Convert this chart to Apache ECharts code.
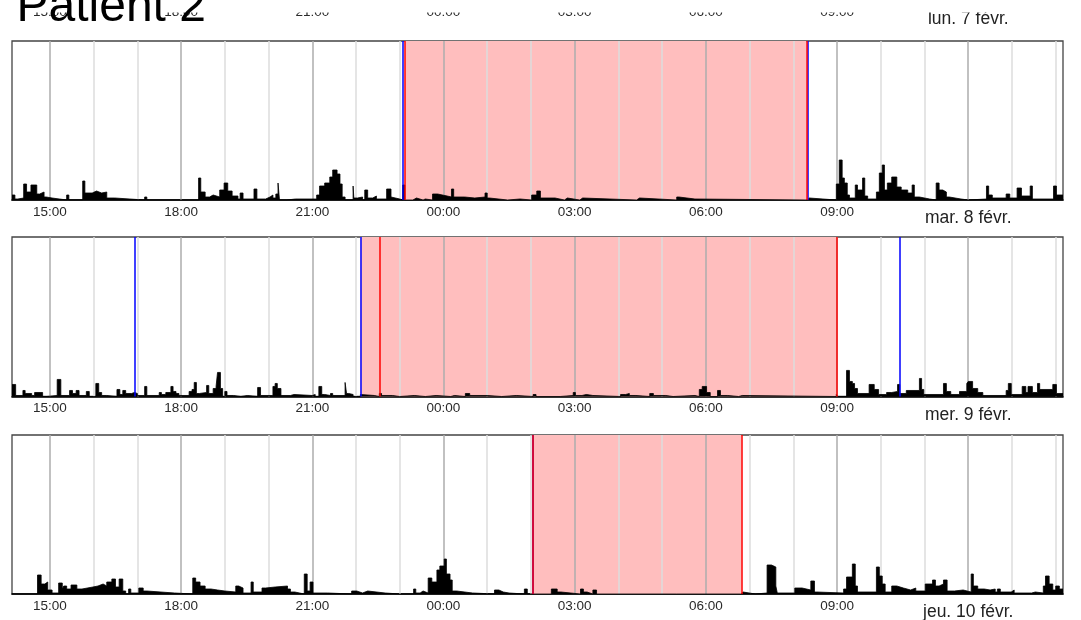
<!DOCTYPE html>
<html lang="fr">
<head>
<meta charset="UTF-8">
<title>Patient 2</title>
<script src="https://cdn.jsdelivr.net/npm/echarts@6/dist/echarts.min.js"></script>
<style>
  html, body { margin: 0; padding: 0; background: #fff; }
  #main { width: 1081px; height: 620px; }
</style>
</head>
<body>
<div id="main"></div>
<script>
// x = minutes after 14:00 of the first day of each panel
const xMin = 8, xMax = 1450;
const tickMinutes = [60, 240, 420, 600, 780, 960, 1140, 1320];
const hourMinutes = [60, 120, 180, 240, 300, 360, 420, 480, 540, 600, 660, 720, 780, 840,
  900, 960, 1020, 1080, 1140, 1200, 1260, 1320, 1380, 1440];
const dayLabels = ['lun. 7 févr.', 'mar. 8 févr.', 'mer. 9 févr.', 'jeu. 10 févr.'];

// activity, [start minute, level] held until next entry
const act1 = [[8,5],[12,1],[16,2],[24,16],[28,8],[34,15],[42,6],[46,8],[52,3],[55,2],[63,0],[83,5],[86,0],[105,19],[108,7],[118,9],[124,7],[131,8],[138,2],[149,0],[190,3],[193,0],[264,22],[267,8],[273,3],[279,5],[284,3],[293,10],[299,17],[304,9],[310,4],[318,1],[321,7],[325,1],[340,11],[344,1],[356,3],[362,5],[366,2],[370,6],[373,17],[375,0],[385,1],[397,0],[399,1],[426,5],[430,14],[437,17],[444,23],[448,30],[454,26],[458,16],[461,3],[465,0],[476,14],[477,2],[482,3],[489,0],[492,10],[496,2],[503,4],[508,1],[522,11],[528,3],[530,1],[540,0],[544,15],[547,0],[558,2],[563,0],[572,1],[575,0],[585,6],[592,4],[605,3],[611,11],[614,3],[629,2],[643,3],[657,7],[660,2],[663,0],[688,1],[705,0],[721,5],[728,9],[733,2],[753,0],[766,2],[770,0],[787,2],[791,0],[865,2],[869,0],[920,3],[923,1],[945,0],[1099,2],[1102,0],[1139,16],[1143,40],[1147,22],[1150,17],[1154,5],[1157,2],[1165,15],[1168,10],[1175,22],[1178,4],[1182,1],[1194,8],[1198,27],[1202,35],[1205,10],[1209,17],[1215,23],[1222,13],[1228,10],[1237,7],[1243,15],[1246,3],[1253,1],[1267,0],[1276,17],[1280,10],[1285,8],[1290,3],[1294,1],[1310,0],[1320,1],[1345,14],[1348,5],[1353,2],[1372,6],[1377,2],[1387,12],[1393,4],[1405,14],[1408,1],[1437,14],[1441,5]];
const act2 = [[8,12],[13,1],[23,6],[26,3],[35,1],[39,4],[50,0],[56,1],[70,17],[75,1],[87,6],[91,3],[96,6],[100,1],[110,5],[114,0],[123,13],[127,4],[131,1],[138,0],[152,7],[156,2],[160,6],[164,3],[172,4],[176,3],[180,1],[190,10],[193,1],[210,4],[213,2],[219,4],[226,10],[229,5],[233,3],[237,1],[251,5],[255,7],[258,14],[261,3],[265,4],[275,11],[278,3],[284,8],[288,10],[290,24],[294,8],[297,0],[300,5],[303,1],[312,0],[322,1],[331,0],[345,9],[349,1],[366,10],[369,13],[372,8],[377,1],[390,2],[395,1],[420,2],[424,0],[429,10],[433,2],[437,1],[445,3],[448,1],[465,14],[467,3],[470,2],[476,0],[486,2],[488,1],[505,0],[512,3],[515,1],[530,0],[540,1],[560,0],[575,1],[590,0],[610,1],[615,0],[630,3],[636,1],[660,0],[680,1],[700,0],[723,2],[727,0],[760,1],[778,4],[781,1],[790,2],[796,1],[805,0],[843,2],[850,3],[855,1],[864,0],[883,3],[888,1],[905,0],[915,1],[945,0],[951,7],[955,10],[961,4],[966,0],[976,6],[980,1],[990,0],[1005,1],[1010,0],[1139,2],[1141,0],[1153,26],[1157,15],[1161,13],[1164,8],[1168,3],[1184,12],[1191,7],[1197,2],[1208,4],[1215,5],[1223,12],[1226,3],[1235,6],[1253,18],[1256,7],[1259,2],[1286,13],[1290,5],[1296,2],[1308,5],[1318,13],[1320,15],[1326,8],[1333,4],[1340,1],[1372,6],[1375,13],[1379,2],[1394,10],[1399,4],[1402,10],[1408,4],[1415,13],[1418,7],[1436,12],[1441,3]];
const act3 = [[8,0],[43,19],[48,10],[53,12],[57,4],[63,1],[72,11],[77,5],[79,8],[83,5],[89,9],[97,5],[104,7],[119,8],[126,10],[133,8],[138,12],[145,15],[150,7],[155,15],[160,3],[164,0],[168,5],[171,1],[182,6],[188,3],[193,1],[231,0],[256,16],[260,12],[266,8],[273,5],[281,4],[290,3],[300,2],[315,8],[319,6],[325,1],[336,12],[339,2],[351,6],[356,7],[369,8],[386,5],[390,2],[396,0],[409,20],[413,3],[417,12],[421,1],[441,0],[474,3],[481,1],[489,3],[496,1],[520,0],[540,2],[542,0],[559,5],[562,1],[568,3],[572,1],[579,16],[584,12],[591,24],[595,28],[601,35],[604,20],[609,14],[612,3],[618,1],[640,0],[670,4],[676,2],[682,1],[690,0],[711,5],[715,0],[721,2],[723,0],[748,5],[756,2],[761,0],[788,5],[792,2],[797,0],[805,4],[810,0],[860,1],[862,0],[920,1],[922,0],[1008,2],[1011,0],[1028,1],[1044,29],[1050,27],[1056,8],[1058,1],[1082,6],[1092,4],[1104,13],[1109,2],[1112,1],[1149,5],[1153,17],[1161,30],[1165,8],[1168,2],[1194,27],[1198,18],[1202,10],[1206,2],[1215,8],[1222,6],[1231,4],[1241,6],[1248,3],[1261,10],[1271,14],[1275,8],[1280,10],[1286,14],[1291,3],[1301,4],[1313,2],[1324,20],[1327,8],[1333,5],[1342,4],[1350,5],[1357,2],[1360,5],[1364,2],[1379,4],[1383,1],[1407,2],[1412,1],[1423,8],[1426,18],[1431,10],[1436,4],[1440,8],[1445,5]];
const activity = [act1, act2, act3];

// sleep window (pink) and markers
const sleepStart = [547, 486, 723];
const sleepEnd = [1098, 1140, 1009];
const blueMarks = [[544, 1100], [177, 486, 1226], [722]];
const redMarks = [[547, 1098], [513, 1140], [723, 1009]];

const panelTop = [41, 237, 435];
const panelHeight = [159, 159.5, 159];
const yMax = 159;

const FONT = 'Liberation Sans';

function labelFormatter(day) {
    return function (v) {
        if (v === 1320) return '{d|' + day + '}';
        const h = (14 + v / 60) % 24;
        return (h < 10 ? '0' : '') + h + ':00';
    };
}

function makeXAxis(gridIndex, day, showLine) {
    return {
        gridIndex: gridIndex,
        type: 'value',
        min: xMin,
        max: xMax,
        axisLine: { show: showLine, lineStyle: { color: '#000', width: 1.5 } },
        axisTick: { show: false },
        splitLine: { show: false },
        axisLabel: {
            customValues: tickMinutes,
            formatter: labelFormatter(day),
            margin: 5,
            fontFamily: FONT,
            fontSize: 13.5,
            color: '#2a2a2a',
            hideOverlap: false,
            rich: {
                d: { fontFamily: FONT, fontSize: 17.5, color: '#222', lineHeight: 27 }
            }
        }
    };
}

function stepData(arr) {
    const d = arr.slice();
    d.push([xMax, arr[arr.length - 1][1]]);
    return d;
}

const grids = [{ left: 12, right: 18, top: -50, height: 50.5, outerBoundsMode: 'none' }];
const xAxes = [makeXAxis(0, dayLabels[0], false)];
const yAxes = [{ gridIndex: 0, type: 'value', min: 0, max: 1, show: false }];
const series = [{ type: 'line', xAxisIndex: 0, yAxisIndex: 0, data: [] }];

for (let i = 0; i < 3; i++) {
    const g = i + 1;
    grids.push({
        left: 12, right: 18, top: panelTop[i], height: panelHeight[i],
        outerBoundsMode: 'none',
        show: true, borderColor: '#444', borderWidth: 1.3, backgroundColor: '#fff'
    });
    xAxes.push(makeXAxis(g, dayLabels[g], true));
    yAxes.push({ gridIndex: g, type: 'value', min: 0, max: yMax, show: false });

    series.push({
        type: 'line',
        xAxisIndex: g,
        yAxisIndex: g,
        data: stepData(activity[i]),
        step: 'end',
        symbol: 'none',
        silent: true,
        z: 3,
        lineStyle: { color: '#000', width: 0.8 },
        areaStyle: { color: '#000', opacity: 1 },
        markArea: {
            silent: true,
            z: 1,
            itemStyle: { color: '#ffbebe', opacity: 1 },
            data: [[{ xAxis: sleepStart[i] }, { xAxis: sleepEnd[i] }]]
        },
        markLine: {
            silent: true,
            z: 2,
            symbol: ['none', 'none'],
            label: { show: false },
            lineStyle: { type: 'solid' },
            data: hourMinutes.map(function (m) {
                const major = (m - 60) % 180 === 0;
                return {
                    xAxis: m,
                    lineStyle: { color: major ? '#acacac' : '#dcdcdc', width: 1.5, type: 'solid' }
                };
            })
        }
    });

    series.push({
        type: 'line',
        xAxisIndex: g,
        yAxisIndex: g,
        data: [],
        silent: true,
        z: 4,
        markLine: {
            silent: true,
            z: 4,
            symbol: ['none', 'none'],
            label: { show: false },
            lineStyle: { type: 'solid' },
            data: blueMarks[i].map(function (m) {
                return { xAxis: m, lineStyle: { color: '#0000ff', width: 1.5, type: 'solid' } };
            }).concat(redMarks[i].map(function (m) {
                return { xAxis: m, lineStyle: { color: '#ff0000', width: 1.5, type: 'solid' } };
            }))
        }
    });
}

const myChart = echarts.init(document.getElementById('main'));
myChart.setOption({
    animation: false,
    backgroundColor: '#fff',
    grid: grids,
    xAxis: xAxes,
    yAxis: yAxes,
    series: series,
    graphic: {
        elements: [
            {
                type: 'rect', z: 50,
                shape: { x: 0, y: 0, width: 1081, height: 12.5 },
                style: { fill: '#fff' }
            },
            {
                type: 'text', z: 100, x: 16.5, y: 7.5,
                style: {
                    text: 'Patient 2', font: '48px "Liberation Sans"', fill: '#000',
                    textVerticalAlign: 'middle'
                }
            }
        ]
    }
});
</script>
</body>
</html>
